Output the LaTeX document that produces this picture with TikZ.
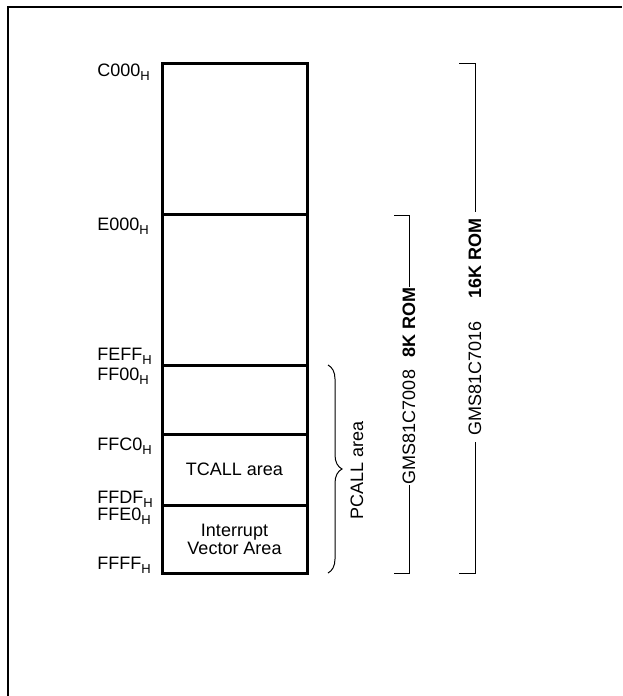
\documentclass[tikz,border=0pt]{standalone}
\usepackage{fontspec}
\setmainfont{Liberation Sans}
\usetikzlibrary{positioning,decorations.pathreplacing}
\newcommand{\hexsub}{\raisebox{-2pt}{\fontsize{6.5}{7}\selectfont H}}

\begin{document}
\begin{tikzpicture}[x=0.5pt,y=-0.5pt,font=\fontsize{9}{9}\selectfont,
  cell/.style={draw,line width=1.5pt,minimum width=72.5pt,inner sep=0pt,outer sep=0pt,anchor=north west,align=center},
  addr/.style={anchor=base west,inner sep=0pt},
  vlabel/.style={rotate=90,inner sep=0.5pt},
  thin/.style={line width=0.5pt}]
  \useasboundingbox (0,0) rectangle (622,696);

  % frame
  \draw[line width=1pt] (8,696) |- (622,7);

  % memory cells
  \node[cell,minimum height=75.5pt] (c000) at (162,63) {};
  \node[cell,minimum height=75.5pt] (e000) at (c000.south west) {};
  \node[cell,minimum height=34.5pt] (ff00) at (e000.south west) {};
  \node[cell,minimum height=35.5pt] (ffc0) at (ff00.south west) {TCALL area};
  \node[cell,minimum height=34pt] (ffe0) at (ffc0.south west) {Interrupt\\Vector Area};

  % addresses
  \foreach \name/\y in {C000/76,E000/230,FEFF/360,FF00/380,FFC0/450,FFDF/503,FFE0/520,FFFF/569}
    \node[addr] (a\name) at (97,\y) {\name\hexsub};

  % PCALL brace
  \draw[thin,decorate,decoration={brace,amplitude=7pt}]
    ([xshift=10.5pt]ff00.north east) -- ([xshift=10.5pt]ffe0.south east);
  \node[vlabel] (pcall) at (357,470) {PCALL area};

  % 8K ROM bracket
  \node[vlabel] (rom8) at (409,386) {GMS81C7008\hspace{6pt}\textbf{8K ROM}};
  \coordinate (rom8top) at (394,215);
  \coordinate (rom8bot) at (394,573);
  \draw[thin] (rom8top) -| (rom8.east);
  \draw[thin] (rom8.west) |- (rom8bot);

  % 16K ROM bracket
  \node[vlabel,inner sep=3.5pt] (rom16) at (475,327) {GMS81C7016\hspace{11pt}\textbf{16K ROM}};
  \coordinate (rom16top) at (459,63);
  \coordinate (rom16bot) at (459,573);
  \draw[thin] (rom16top) -| (rom16.east);
  \draw[thin] (rom16.west) |- (rom16bot);
\end{tikzpicture}
\end{document}
